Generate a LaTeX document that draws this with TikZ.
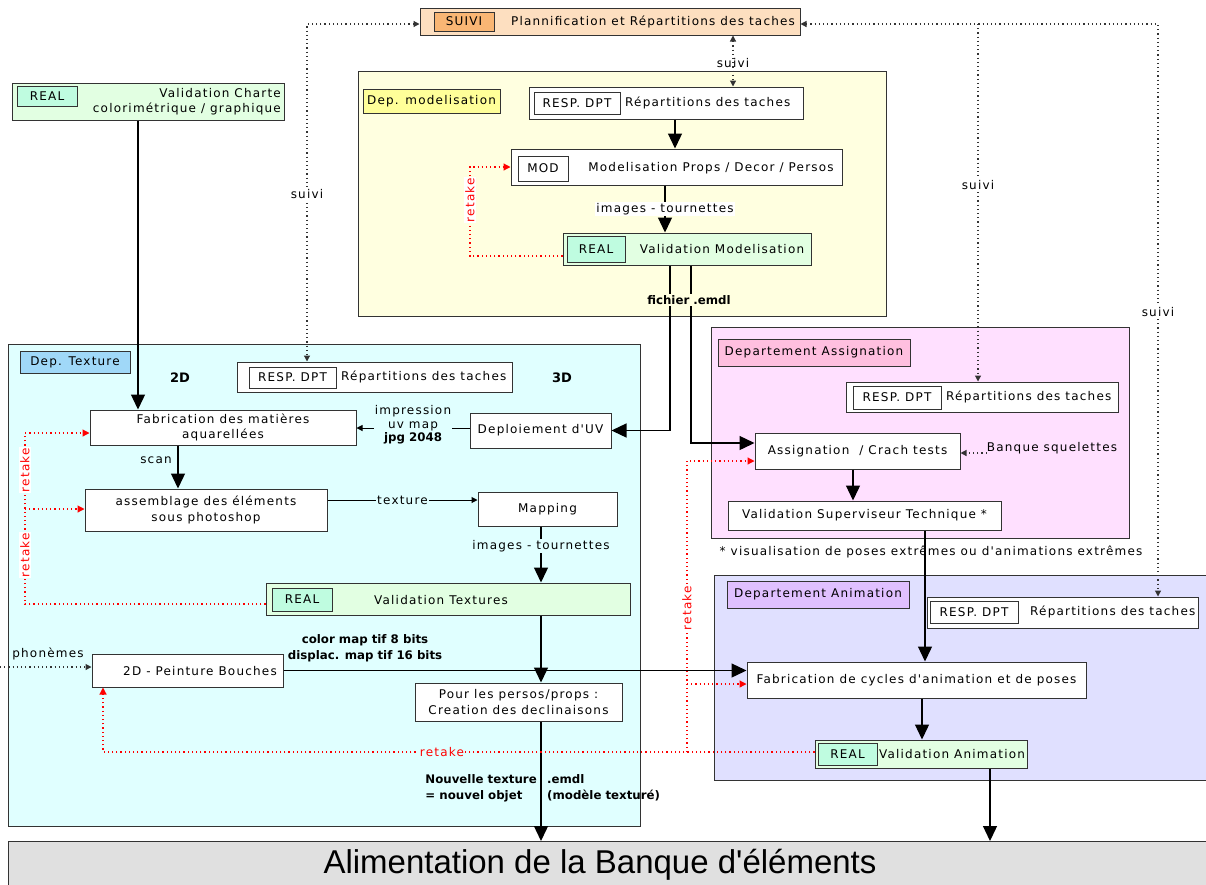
\documentclass[tikz,border=0pt]{standalone}
\usepackage{fontspec}
\usetikzlibrary{arrows.meta}
\newfontfamily\vf{DejaVu Sans}[LetterSpace=10]
\newfontfamily\vb{DejaVu Sans}
\newfontfamily\alf{Liberation Sans}
\newcommand\mf{\vf\fontsize{12}{15.5}\selectfont}
\newcommand\bfl{\vb\bfseries\fontsize{11.8}{16}\selectfont}
\newcommand\bigbf{\vb\bfseries\fontsize{13}{14}\selectfont}
\definecolor{bord}{HTML}{333333}
\definecolor{peach}{HTML}{FDDFC0}
\definecolor{orangeT}{HTML}{F9B674}
\definecolor{valG}{HTML}{E2FFE2}
\definecolor{mint}{HTML}{BFFCE0}
\definecolor{modY}{HTML}{FFFFE0}
\definecolor{modL}{HTML}{FFFF99}
\definecolor{texC}{HTML}{E0FFFF}
\definecolor{texL}{HTML}{A0D8F8}
\definecolor{asgP}{HTML}{FFE0FF}
\definecolor{asgL}{HTML}{FFBFDF}
\definecolor{aniV}{HTML}{E0E0FF}
\definecolor{aniL}{HTML}{E0C0FF}
\definecolor{alimG}{HTML}{E0E0E0}
\definecolor{retR}{HTML}{FF0000}
\tikzset{
 frame/.style={draw=bord, line width=1pt, inner sep=0pt},
 wh/.style 2 args={minimum width=#1, minimum height=#2},
 box/.style={frame, fill=white},
 bigarr/.style={draw=black, line width=1.3pt, -{Triangle[length=15pt,width=14pt]}},
 smallarr/.style={draw=black, line width=1pt, -{Triangle[length=6pt,width=6pt]}},
 dotline/.style={line width=1.2pt, dash pattern=on 1.2pt off 3pt},
 dotarr/.style={dotline, draw=bord, -{Triangle[length=6pt,width=6pt]}},
 follow/.style={dotline, draw=bord, {Triangle[length=6pt,width=6pt]}-{Triangle[length=6pt,width=6pt]}},
 retake/.style={dotline, draw=retR, -{Triangle[length=7pt,width=7pt]}},
 retlab/.style={text=retR, fill=white, inner sep=1pt},
 lab/.style={fill=white, inner sep=1pt},
 boldlab/.style={font=\bfl, inner sep=1pt},
}
\begin{document}
\begin{tikzpicture}[x=1pt,y=-1pt, every node/.style={font=\mf, inner sep=0pt}]
\useasboundingbox (0,0) rectangle (1206,884);
% ---------- containers ----------
\node[frame, fill=modY, wh={528}{245}] (modDep) at (622,193.5) {};
\node[frame, fill=modL, wh={137}{24}] (modLab) at (431.5,101) {Dep. modelisation};
\node[frame, fill=texC, wh={632}{482}] (texDep) at (324,585) {};
\node[frame, fill=texL, wh={110}{22}] (texLab) at (75,362) {Dep. Texture};
\node[frame, fill=asgP, wh={418}{211}] (asgDep) at (920,432.5) {};
\node[frame, fill=asgL, wh={192}{27}] (asgLab) at (814,352.5) {Departement Assignation};
\node[frame, fill=aniV, wh={500}{205}, anchor=north west] (aniDep) at (714,575) {};
\node[frame, fill=aniL, wh={182}{27}] (aniLab) at (818,594.5) {Departement Animation};
\node[frame, fill=alimG, wh={1210}{60}, anchor=north west] (alim) at (8,841) {};
\node[font=\alf\fontsize{33}{35}\selectfont] (alimT) at (600,865) {Alimentation de la Banque d'éléments};
% ---------- top ----------
\node[frame, fill=peach, wh={380}{27}] (suivi) at (610,21.5) {};
\node[frame, fill=orangeT, wh={60}{19}] (suiviT) at (464,21.5) {SUIVI};
\node (suiviX) at (653,22) {Plannification et Répartitions des taches};
\node[frame, fill=valG, wh={272}{37}] (charte) at (148,101.5) {};
\node[frame, fill=mint, wh={60}{20}] (charteT) at (47,96) {REAL};
\node[anchor=east, align=right] (charteX) at (281,101.5) {Validation Charte\\colorimétrique / graphique};
% ---------- modelisation ----------
\node[box, wh={274}{32}] (modResp) at (666,103) {};
\node[frame, wh={86}{22}] (modRespT) at (577,103) {RESP. DPT};
\node[anchor=west] (modRespX) at (625,103) {Répartitions des taches};
\node[box, wh={331}{36}] (modBox) at (676.5,167) {};
\node[frame, wh={50}{25}] (modBoxT) at (543,168.5) {MOD};
\node (modBoxX) at (711,168) {Modelisation Props / Decor / Persos};
\node[frame, fill=valG, wh={248}{32}] (valMod) at (687,249) {};
\node[frame, fill=mint, wh={58}{26}] (valModT) at (596,249) {REAL};
\node (valModX) at (722,249) {Validation Modelisation};
% ---------- texture ----------
\node[box, wh={275}{30}] (texResp) at (374.5,377) {};
\node[frame, wh={87}{21}] (texRespT) at (292.5,377.5) {RESP. DPT};
\node[anchor=west] (texRespX) at (341,377) {Répartitions des taches};
\node[font=\bigbf] (t2D) at (180,378) {2D};
\node[font=\bigbf] (t3D) at (562,378) {3D};
\node[box, wh={266}{35}, align=center] (fab) at (223,427.5) {Fabrication des matières\\aquarellées};
\node[box, wh={141}{35}] (deploy) at (540.5,430.5) {Deploiement d'UV};
\node[box, wh={242}{42}, align=center] (assem) at (206,510) {assemblage des éléments\\sous photoshop};
\node[box, wh={139}{34}] (mapping) at (547.5,509) {Mapping};
\node[frame, fill=valG, wh={364}{32}] (valTex) at (448,599) {};
\node[frame, fill=mint, wh={60}{23}] (valTexT) at (302,599.5) {REAL};
\node (valTexX) at (441,600) {Validation Textures};
\node[box, wh={191}{33}] (bouches) at (187.5,670.5) {};
\node (bouchesX) at (200,671) {2D - Peinture Bouches};
\node[box, wh={207}{38}, align=center] (persos) at (518.5,702) {Pour les persos/props :\\Creation des declinaisons};
% ---------- assignation ----------
\node[box, wh={272}{30}] (asgResp) at (982,397) {};
\node[frame, wh={88}{23}] (asgRespT) at (897,397.5) {RESP. DPT};
\node[anchor=west] (asgRespX) at (946,397) {Répartitions des taches};
\node[box, wh={205}{36}] (assign) at (857.5,451) {Assignation\ \ / Crach tests};
\node[box, wh={273}{29}] (superv) at (864.5,515.5) {Validation Superviseur Technique *};
\node (banque) at (1052,448) {Banque squelettes};
\node (note) at (931,552) {* visualisation de poses extrêmes ou d'animations extrêmes};
% ---------- animation ----------
\node[box, wh={271}{31}] (aniResp) at (1062.5,612.5) {};
\node[frame, wh={88}{22}] (aniRespT) at (974,612) {RESP. DPT};
\node[anchor=west] (aniRespX) at (1030,612) {Répartitions des taches};
\node[box, wh={339}{36}] (cycles) at (916.5,680) {Fabrication de cycles d'animation et de poses};
\node[frame, fill=valG, wh={212}{28}] (valAni) at (921,754) {};
\node[frame, fill=mint, wh={59}{22}] (valAniT) at (847.5,754) {REAL};
\node (valAniX) at (952,754) {Validation Animation};
% ---------- helper coordinates ----------
\coordinate (c138) at (138,0); \coordinate (c675) at (675,0); \coordinate (c665) at (665,0);
\coordinate (c670) at (670,0); \coordinate (c691) at (691,0); \coordinate (c178) at (178,0);
\coordinate (c541) at (541,0); \coordinate (c853) at (853,0); \coordinate (c925) at (925,0);
\coordinate (c922) at (922,0); \coordinate (c990) at (990,0); \coordinate (c733) at (733,0);
\coordinate (c470) at (470,0); \coordinate (c25) at (25,0); \coordinate (c103) at (103,0);
\coordinate (c687) at (687,0); \coordinate (c978) at (978,0); \coordinate (c1158) at (1158,0);
\coordinate (c307) at (307,0);
\coordinate (y24) at (0,24); \coordinate (y428) at (0,428); \coordinate (y443) at (0,443);
\coordinate (y453) at (0,453); \coordinate (y500) at (0,500); \coordinate (y256) at (0,256);
\coordinate (y604) at (0,604); \coordinate (y433) at (0,433); \coordinate (y509) at (0,509);
\coordinate (y752) at (0,752); \coordinate (y461) at (0,461); \coordinate (y684) at (0,684);
\coordinate (phon) at (0,667);
\coordinate (s978) at (978,24);
% ---------- main connectors ----------
\draw[bigarr] (charte.south -| c138) -- (fab.north -| c138);
\draw[bigarr] (modResp.south -| c675) -- (modBox.north -| c675);
\draw[bigarr] (modBox.south -| c665) -- (valMod.north -| c665);
\node[lab] at (665,209) {images - tournettes};
\draw[bigarr] (valMod.south -| c670) |- (deploy.east);
\draw[bigarr] (valMod.south -| c691) |- (assign.west |- y443);
\node[boldlab, fill=modY] at (689,300) {fichier .emdl};
\draw[smallarr] (deploy.west |- y428) -- (fab.east |- y428);
\node[fill=texC, inner sep=1pt, align=center] at (413,425) {impression\\[-2pt]uv map\\[-2pt]{\bfl jpg 2048}};
\draw[bigarr] (fab.south -| c178) -- (assem.north -| c178);
\node at (156,460) {scan};
\draw[smallarr] (assem.east |- y500) -- (mapping.west |- y500) node[midway, fill=texC, inner sep=1pt] {texture};
\draw[bigarr] (mapping.south -| c541) -- (valTex.north -| c541);
\node[fill=texC, inner sep=1pt] at (541,546) {images - tournettes};
\draw[bigarr] (valTex.south -| c541) -- (persos.north -| c541);
\draw[bigarr] (bouches.east) -- (cycles.west |- bouches.east);
\node[boldlab, align=center] at (365,648) {color map tif 8 bits\\displac. map tif 16 bits};
\draw[dotarr] (phon) -- (bouches.west |- phon);
\node at (48,654) {phonèmes};
\draw[bigarr] (persos.south -| c541) -- (alim.north -| c541);
\node[boldlab, anchor=east, align=left] at (538,788) {Nouvelle texture\\= nouvel objet};
\node[boldlab, anchor=west, align=left] at (546,788) {.emdl\\(modèle texturé)};
\draw[bigarr] (assign.south -| c853) -- (superv.north -| c853);
\draw[bigarr] (superv.south -| c925) -- (cycles.north -| c925);
\draw[bigarr] (cycles.south -| c922) -- (valAni.north -| c922);
\draw[bigarr] (valAni.south -| c990) -- (alim.north -| c990);
\draw[dotarr] (banque.west |- y453) -- (assign.east |- y453);
% ---------- suivi ----------
\draw[follow] (suivi.west |- y24) -| (texResp.north -| c307);
\node[lab] at (307,194) {suivi};
\draw[follow] (suivi.east |- y24) -| (aniResp.north -| c1158);
\draw[dotarr] (s978) -- (asgResp.north -| c978);
\node[lab] at (978,185) {suivi};
\node[lab] at (1158,312) {suivi};
\draw[follow] (suivi.south -| c733) -- (modResp.north -| c733);
\node[lab, fill=none] at (733,63) {suivi};
% ---------- retakes ----------
\draw[retake] (valMod.west |- y256) -- (c470 |- y256) -- (c470 |- modBox.west) -- (modBox.west);
\node[retlab, rotate=90] at (470,200) {retake};
\draw[retake] (valTex.west |- y604) -- (c25 |- y604) -- (c25 |- y433) -- (fab.west |- y433);
\draw[retake] (c25 |- y509) -- (assem.west |- y509);
\node[retlab, rotate=90] at (25,470) {retake};
\node[retlab, rotate=90] at (25,555) {retake};
\draw[retake] (valAni.west |- y752) -- (c103 |- y752) -- (bouches.south -| c103);
\draw[retake] (c687 |- y752) -- (c687 |- y461) -- (assign.west |- y461);
\draw[retake] (c687 |- y684) -- (cycles.west |- y684);
\node[retlab, fill=texC] at (442,752) {retake};
\node[retlab, rotate=90] at (687,608) {retake};
\end{tikzpicture}
\end{document}
